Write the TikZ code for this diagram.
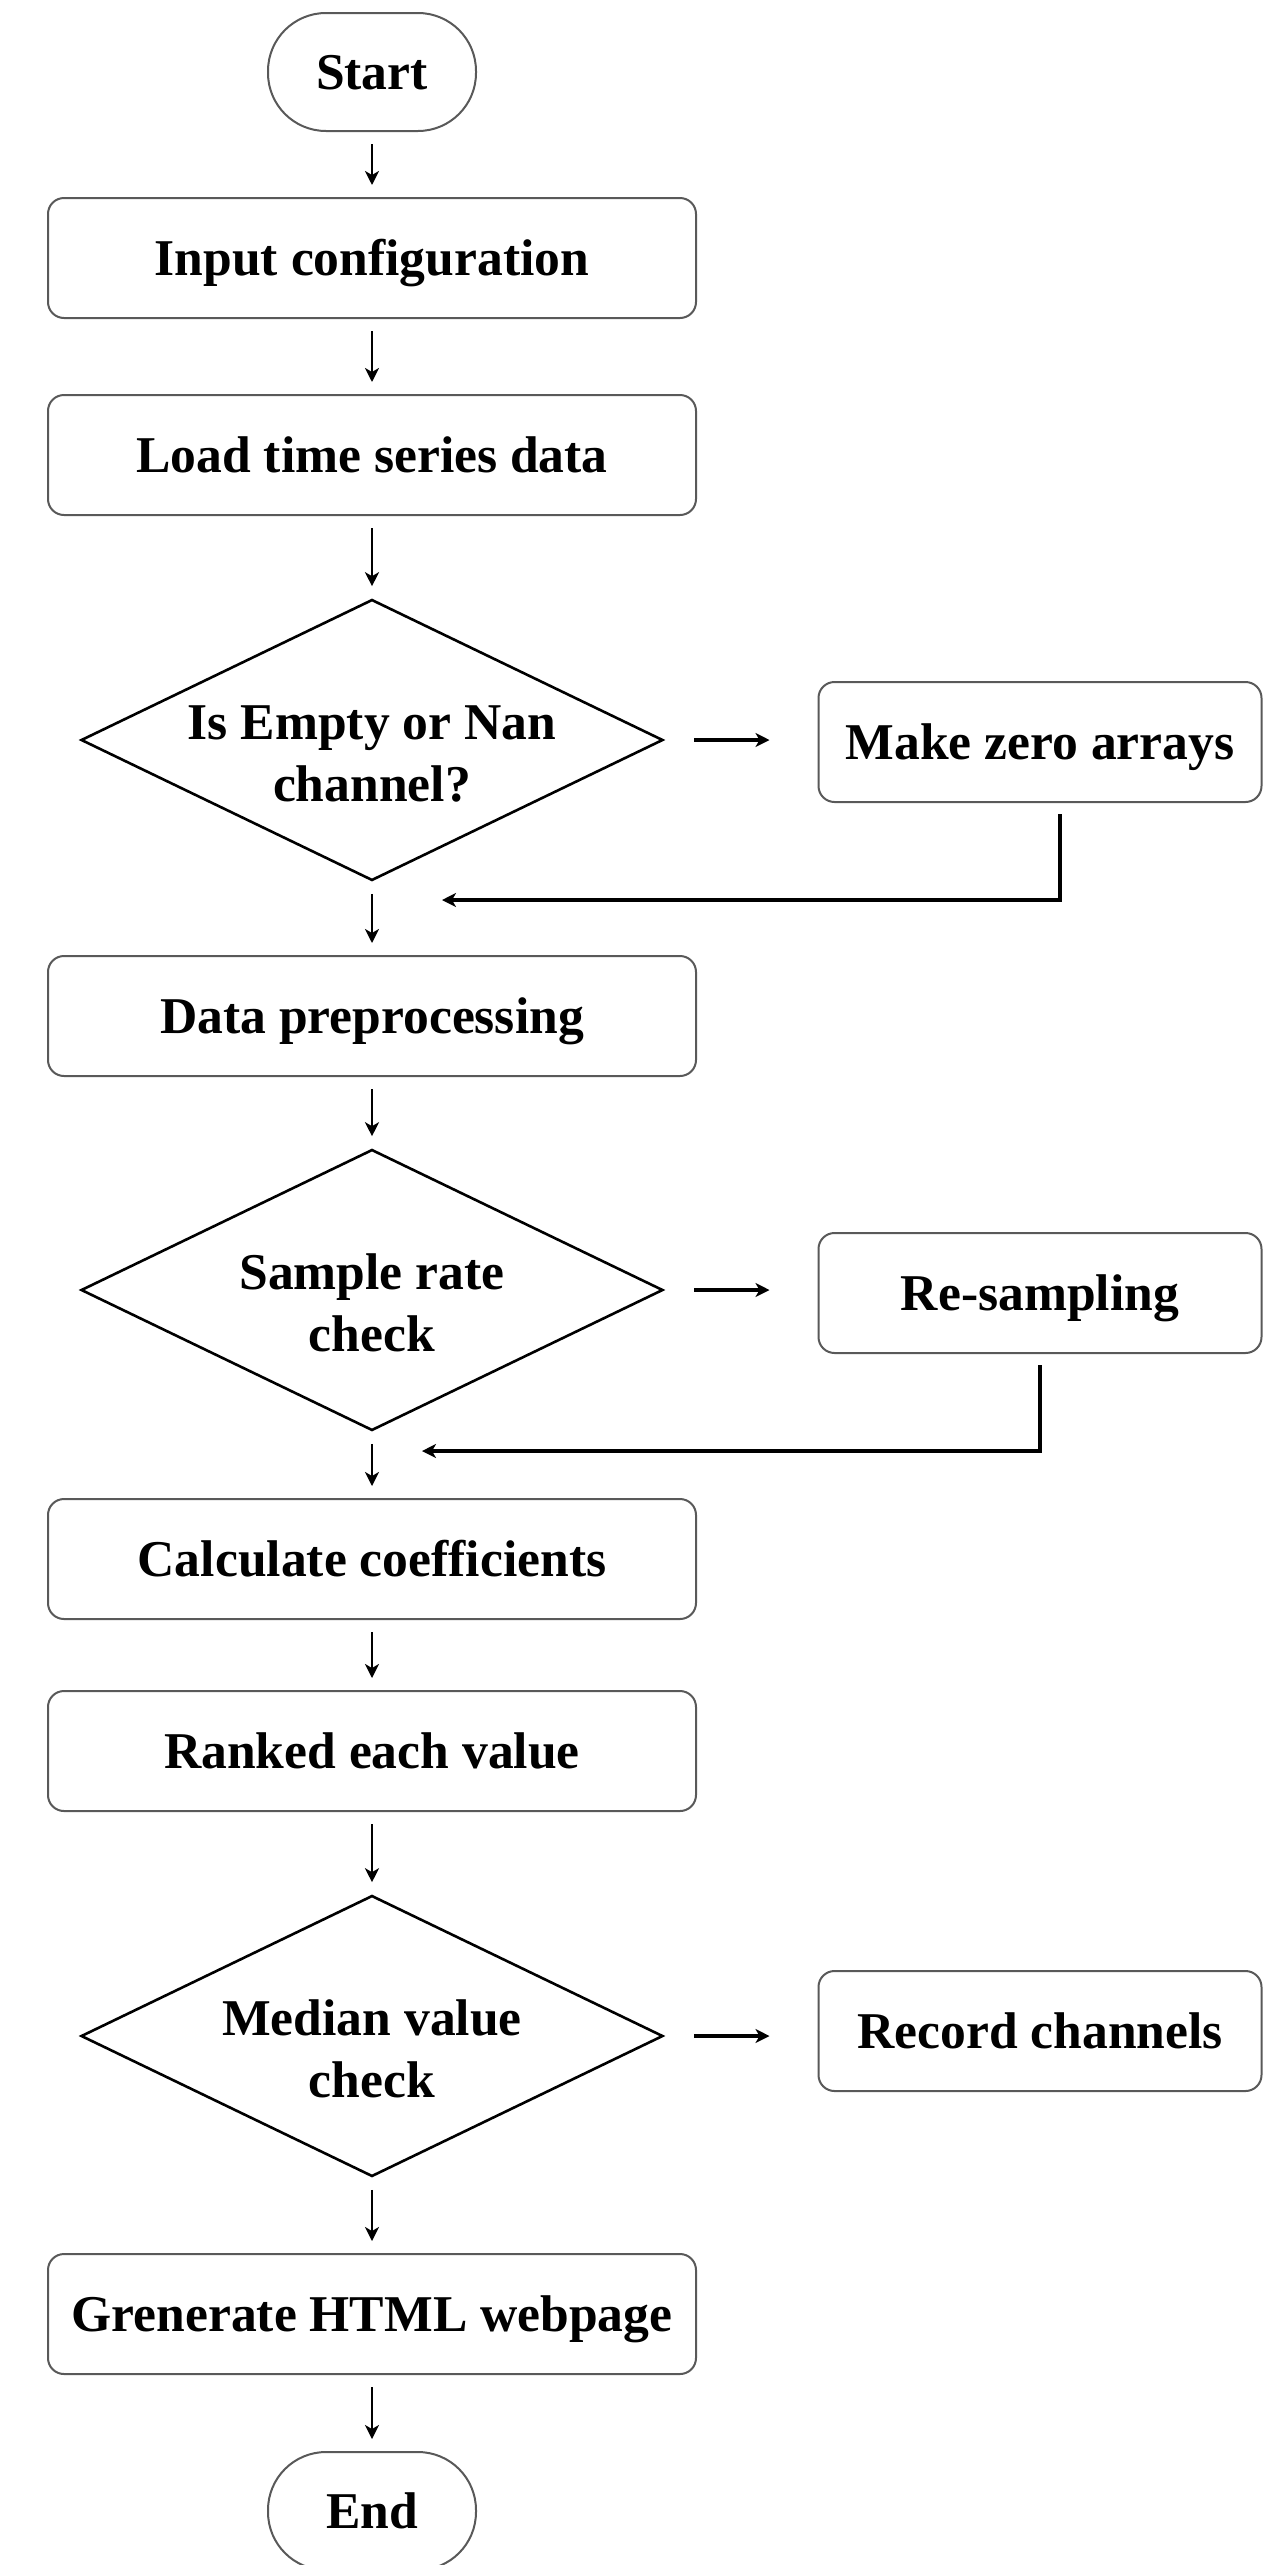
\documentclass[tikz,border=0pt]{standalone}
\usepackage{fontspec}
\setmainfont{Liberation Serif}
\usetikzlibrary{shapes.geometric,arrows.meta}

\begin{document}
\begin{tikzpicture}[x=0.5pt, y=-0.5pt,
    every node/.style={font=\fontsize{25.8}{31}\selectfont\bfseries},
    box/.style={draw=black!65, line width=1pt, rounded corners=8pt, minimum width=324pt, minimum height=60pt, inner sep=0pt, text height=20pt, text depth=3pt},
    sidebox/.style={box, minimum width=221.5pt},
    terminal/.style={draw=black!65, line width=1pt, rounded corners=29pt, minimum width=104pt, minimum height=59pt, inner sep=0pt, text height=20pt, text depth=3pt},
    decision/.style={draw, line width=1.3pt, diamond, aspect=2.07, minimum width=291pt, minimum height=140.5pt, inner sep=-6pt, align=center, text height=61pt, text depth=0pt},
    arr/.style={line width=1.4pt, -{Stealth[length=7pt,width=7pt,inset=2pt]}, shorten <=6pt, shorten >=6pt},
    side/.style={arr, line width=1.8pt, shorten <=15pt, shorten >=24pt},
    back/.style={line width=1.8pt, -{Stealth[length=7pt,width=7pt,inset=2pt]}, shorten <=5.5pt}]
    \useasboundingbox (0,0) rectangle (1281,2565);
    \node[terminal] (start) at (372,72) {Start};
    \node[box] (input) at (372,258) {Input configuration};
    \node[box] (load) at (372,455) {Load time series data};
    \node[decision] (empty) at (372,740) {Is Empty or Nan\\channel?};
    \node[sidebox] (zero) at (1040,742) {Make zero arrays};
    \node[box] (prep) at (372,1016) {Data preprocessing};
    \node[decision] (rate) at (372,1290) {Sample rate\\check};
    \node[sidebox] (resamp) at (1040,1293) {Re-sampling};
    \node[box] (coeff) at (372,1559) {Calculate coefficients};
    \node[box] (ranked) at (372,1751) {Ranked each value};
    \node[decision] (median) at (372,2036) {Median value\\check};
    \node[sidebox] (record) at (1040,2031) {Record channels};
    \node[box] (html) at (372,2314) {Grenerate HTML webpage};
    \node[terminal] (end) at (372,2511) {End};
    \coordinate (zeroend) at (442,900);
    \coordinate (resampend) at (422,1451);
    \draw[arr] (start) -- (input);
    \draw[arr] (input) -- (load);
    \draw[arr] (load) -- (empty);
    \draw[arr] (empty) -- (prep);
    \draw[side] (empty.east) -- (empty.east -| zero.west);
    \draw[back] ([xshift=10pt]zero.south) |- (zeroend);
    \draw[arr] (prep) -- (rate);
    \draw[arr] (rate) -- (coeff);
    \draw[side] (rate.east) -- (rate.east -| resamp.west);
    \draw[back] (resamp.south) |- (resampend);
    \draw[arr] (coeff) -- (ranked);
    \draw[arr] (ranked) -- (median);
    \draw[side] (median.east) -- (median.east -| record.west);
    \draw[arr] (median) -- (html);
    \draw[arr] (html) -- (end);
\end{tikzpicture}
\end{document}
